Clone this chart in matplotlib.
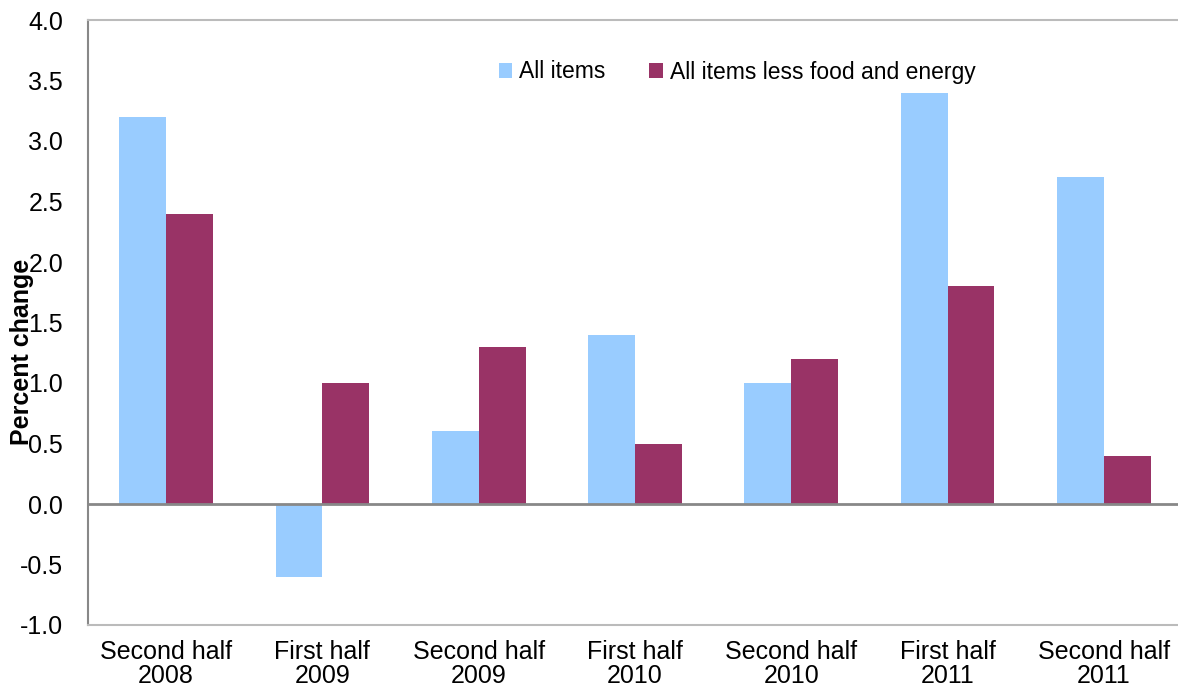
import matplotlib
matplotlib.use("Agg")
import matplotlib.pyplot as plt
import numpy as np

categories = ["Second half\n2008", "First half\n2009", "Second half\n2009",
              "First half\n2010", "Second half\n2010", "First half\n2011",
              "Second half\n2011"]
all_items = [3.2, -0.6, 0.6, 1.4, 1.0, 3.4, 2.7]
core_items = [2.4, 1.0, 1.3, 0.5, 1.2, 1.8, 0.4]
series_names = ["All items", "All items less food and energy"]
yticks = [-1.0, -0.5, 0.0, 0.5, 1.0, 1.5, 2.0, 2.5, 3.0, 3.5, 4.0]

plt.rcParams['font.family'] = ['Liberation Sans', 'DejaVu Sans']

W, H = 1178, 690
fig = plt.figure(figsize=(W / 100, H / 100), dpi=100)
left, right, top, bottom = 88, 1182, 20, 625
ax = fig.add_axes([left / W, 1 - bottom / H, (right - left) / W, (bottom - top) / H])

x = np.arange(len(categories))
bw = 0.3
ax.bar(x - bw / 2, all_items, bw, color="#99CCFF", label=series_names[0], zorder=2)
ax.bar(x + bw / 2, core_items, bw, color="#993366", label=series_names[1], zorder=2)

ax.axhline(0, color="#888888", lw=2, zorder=3)
ax.set_xlim(-0.5, len(categories) - 0.5)
ax.set_ylim(-1.0, 4.0)
ax.set_yticks(yticks)
ax.set_yticklabels([f"{v:.1f}" for v in yticks], fontsize=18)
ax.set_xticks(x)
ax.set_xticklabels(categories, fontsize=18, linespacing=1.0)
ax.tick_params(axis='y', length=0, pad=18)
ax.tick_params(axis='x', length=0, pad=11)

ax.spines["right"].set_visible(False)
ax.spines["left"].set_color("#888888")
ax.spines["left"].set_linewidth(1.5)
ax.spines["top"].set_color("#BBBBBB")
ax.spines["top"].set_linewidth(1.5)
ax.spines["bottom"].set_color("#BBBBBB")
ax.spines["bottom"].set_linewidth(1.5)

fig.text(22 / W, 1 - 352 / H, "Percent change", rotation=90, fontsize=18,
         fontweight="bold", ha="center", va="center")

ax.legend(loc="center", bbox_to_anchor=((737 - left) / (right - left), 1 - (72 - top) / (bottom - top)),
          ncol=2, frameon=False, fontsize=16.5, handlelength=0.6, handleheight=0.6,
          handletextpad=0.3, columnspacing=1.9, borderaxespad=0, borderpad=0)

fig.savefig("out.png", dpi=100)
